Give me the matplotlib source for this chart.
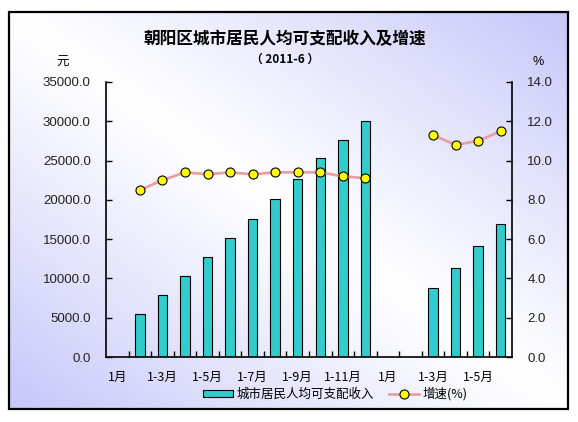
import numpy as np
import matplotlib
matplotlib.use("Agg")
import matplotlib.pyplot as plt
from matplotlib.patches import Rectangle
from matplotlib.lines import Line2D

plt.rcParams['font.family'] = ['Liberation Sans', 'Noto Sans CJK SC', 'DejaVu Sans']

# 2010-01 .. 2011-06, cumulative figures (NaN = not published)
months = ['1月', '', '1-3月', '', '1-5月', '', '1-7月', '', '1-9月', '', '1-11月', '',
          '1月', '', '1-3月', '', '1-5月', '']
income = [np.nan, 5430, 7830, 10360, 12760, 15160, 17560, 20090, 22620, 25270, 27670, 30070,
          np.nan, np.nan, 8720, 11370, 14110, 16890]
growth = [np.nan, 8.5, 9.0, 9.4, 9.3, 9.4, 9.3, 9.4, 9.4, 9.4, 9.2, 9.1,
          np.nan, np.nan, 11.3, 10.8, 11.0, 11.5]

W, H = 578, 422
fig = plt.figure(figsize=(W / 100, H / 100), dpi=100)

# background gradient inside the frame
bg = fig.add_axes([0, 0, 1, 1])
bg.set_xlim(0, W)
bg.set_ylim(H, 0)
bg.axis('off')
gx, gy = np.meshgrid(np.linspace(0, 1, 300), np.linspace(0, 1, 220))
t = np.abs(gx - gy) ** 1.1
white = np.array([1.0, 1.0, 1.0])
lav = np.array([198, 198, 250]) / 255
img = white[None, None, :] * (1 - t[..., None]) + lav[None, None, :] * t[..., None]
bg.imshow(img, extent=(9, 568, 409, 12), aspect='auto', zorder=0)
bg.add_patch(Rectangle((9, 12), 559, 397, fill=False, ec='black', lw=1.6, zorder=2))

ax = fig.add_axes([106 / W, 1 - 357 / H, 406 / W, 275 / H])
ax.patch.set_alpha(0)
x = np.arange(len(months))
ax.bar(x, income, width=0.42, color='#33CCCC', edgecolor='black', linewidth=0.8, zorder=2)
ax.set_xlim(-0.5, len(months) - 0.5)
ax.set_ylim(0, 35000)
ax.set_yticks(np.arange(0, 35001, 5000))
ax.set_yticklabels([f'{v:.1f}' for v in np.arange(0, 35001, 5000)], fontsize=9.5, color='#222222')
ax.set_xticks(np.arange(0.5, len(months) - 0.5, 1))
ax.set_xticklabels([])
ax.set_xticks(x, minor=True)
ax.set_xticklabels(months, minor=True, fontsize=9, family=['Noto Sans CJK SC'])
ax.tick_params(axis='x', which='major', direction='in', length=4, width=1)
ax.tick_params(axis='x', which='minor', length=0, pad=10)
ax.tick_params(axis='y', direction='in', length=4, width=1, pad=11)
ax.spines['top'].set_visible(False)
ax.spines['right'].set_visible(False)
for s in ['left', 'bottom']:
    ax.spines[s].set_linewidth(1.2)

ax2 = ax.twinx()
ax2.plot(x, growth, color='#E8A0A4', lw=2, marker='o', ms=6.5,
         mfc='#FFFF00', mec='black', mew=0.8, zorder=3)
ax2.set_ylim(0, 14)
ax2.set_yticks(np.arange(0, 15, 2))
ax2.set_yticklabels([f'{v:.1f}' for v in np.arange(0, 15, 2)], fontsize=9.5, color='#222222')
ax2.tick_params(axis='y', direction='in', length=4, width=1, pad=11)
ax2.spines['top'].set_visible(False)
ax2.spines['left'].set_visible(False)
ax2.spines['bottom'].set_visible(False)
ax2.spines['right'].set_linewidth(1.2)

fig.text(285 / W, 1 - 39 / H, '朝阳区城市居民人均可支配收入及增速', ha='center', va='center',
         fontsize=12, fontweight='bold', family=['Noto Sans CJK SC'])
fig.text(285 / W, 1 - 59 / H, '（ 2011-6 ）', ha='center', va='center',
         fontsize=8.5, fontweight='bold', family=['Noto Sans CJK SC'])
fig.text(63 / W, 1 - 62 / H, '元', ha='center', va='center', fontsize=9, family=['Noto Sans CJK SC'])
fig.text(538 / W, 1 - 62 / H, '%', ha='center', va='center', fontsize=9)

h1 = Rectangle((0, 0), 1, 1, fc='#33CCCC', ec='black', lw=0.8)
h2 = Line2D([], [], color='#E8A0A4', lw=2, marker='o', ms=6.5, mfc='#FFFF00', mec='black', mew=0.8)
fig.legend([h1, h2], ['城市居民人均可支配收入', '增速(%)'], loc='center',
           bbox_to_anchor=(335 / W, 1 - 394 / H), ncol=2, frameon=False,
           prop={'family': ['Noto Sans CJK SC'], 'size': 9},
           handlelength=2.4, handleheight=0.45, handletextpad=0.3, columnspacing=1.2)

fig.savefig('out.png', dpi=100)
